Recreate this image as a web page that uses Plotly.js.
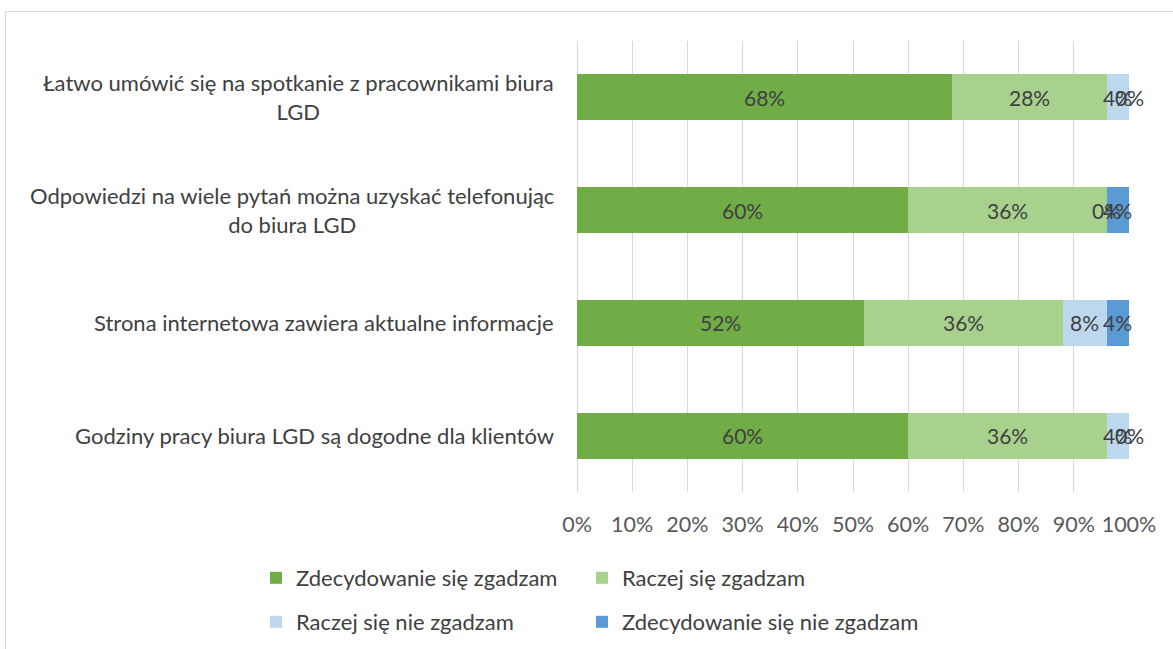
<!DOCTYPE html>
<html>
<head>
<meta charset="utf-8">
<script src="https://cdn.plot.ly/plotly-3.0.1.min.js"></script>
<style>html,body{margin:0;padding:0;background:#fff;}#chart{width:1173px;height:649px;}</style>
</head>
<body>
<div id="chart"></div>
<script>
// Categories, top to bottom
const categories = [
  "Łatwo umówić się na spotkanie z pracownikami biura<br>LGD",
  "Odpowiedzi na wiele pytań można uzyskać telefonując<br>do biura LGD",
  "Strona internetowa zawiera aktualne informacje",
  "Godziny pracy biura LGD są dogodne dla klientów"
];
const seriesNames = [
  "Zdecydowanie się zgadzam",
  "Raczej się zgadzam",
  "Raczej się nie zgadzam",
  "Zdecydowanie się nie zgadzam"
];
const zdecydowanieTak = [68, 60, 52, 60];
const raczejTak = [28, 36, 36, 36];
const raczejNie = [4, 0, 8, 4];
const zdecydowanieNie = [0, 4, 4, 0];
const xTicks = [0, 10, 20, 30, 40, 50, 60, 70, 80, 90, 100];

const series = [zdecydowanieTak, raczejTak, raczejNie, zdecydowanieNie];
const colors = ["#70AD47", "#A9D18E", "#BDD7EE", "#5B9BD5"];
const FONT = "Lato, 'Open Sans', sans-serif";
const legendNames = ["legend", "legend2", "legend3", "legend4"];

const traces = series.map((vals, i) => ({
  type: "bar",
  orientation: "h",
  name: seriesNames[i],
  y: categories,
  x: vals,
  marker: {color: colors[i], line: {width: 0}},
  legend: legendNames[i],
  hoverinfo: "x+name"
}));

// plot area geometry (px)
const W = 1173, H = 649;
const mL = 577, mR = 44, mT = 41, mB = 157;
const pw = W - mL - mR, ph = H - mT - mB;
const px2x = p => (p - mL) / pw;
const py2y = p => (H - mB - p) / ph;

const annotations = [];
// value labels, centered in each segment (computed from data)
categories.forEach((cat, ci) => {
  let cum = 0;
  series.forEach((vals, si) => {
    const v = vals[ci];
    annotations.push({
      x: cum + v / 2, y: cat, xref: "x", yref: "y",
      text: v + "%", showarrow: false,
      font: {family: FONT, size: 21, color: "#404040"}
    });
    cum += v;
  });
  // category label
  annotations.push({
    x: px2x(556), y: cat, xref: "paper", yref: "y",
    xanchor: "right", align: "center",
    text: cat, showarrow: false,
    font: {family: FONT, size: 22, color: "#404040"}
  });
});

const legendPos = [[256, 578], [582, 578], [256, 622], [582, 622]];
const layout = {
  width: W, height: H,
  margin: {l: mL, r: mR, t: mT, b: mB, pad: 0, autoexpand: false},
  paper_bgcolor: "#ffffff",
  plot_bgcolor: "#ffffff",
  barmode: "stack",
  bargap: 0.592,
  font: {family: FONT, color: "#404040"},
  xaxis: {
    range: [0, 100],
    tickvals: xTicks,
    ticktext: xTicks.map(t => t + "%"),
    showgrid: true,
    gridcolor: "#d9d9d9",
    gridwidth: 1,
    zeroline: true,
    zerolinecolor: "#d9d9d9",
    zerolinewidth: 1,
    showline: false,
    ticks: "",
    ticklabelstandoff: 17,
    tickfont: {family: FONT, size: 21.5, color: "#595959"},
    automargin: false,
    fixedrange: true
  },
  yaxis: {
    type: "category",
    autorange: "reversed",
    showticklabels: false,
    showgrid: false,
    zeroline: false,
    showline: false,
    ticks: "",
    automargin: false,
    fixedrange: true
  },
  annotations: annotations,
  shapes: [{
    type: "rect", xref: "paper", yref: "paper",
    x0: px2x(5.5), x1: px2x(1190), y0: py2y(670), y1: py2y(11.5),
    line: {color: "#d9d9d9", width: 1}, fillcolor: "rgba(0,0,0,0)", layer: "below"
  }],
  showlegend: true
};
legendPos.forEach((p, i) => {
  layout[legendNames[i]] = {
    x: px2x(p[0]), y: py2y(p[1]),
    xanchor: "left", yanchor: "middle",
    orientation: "h",
    bgcolor: "rgba(0,0,0,0)",
    borderwidth: 0,
    font: {family: FONT, size: 22, color: "#404040"}
  };
});

Plotly.newPlot("chart", traces, layout, {displayModeBar: false, staticPlot: true});
</script>
</body>
</html>
